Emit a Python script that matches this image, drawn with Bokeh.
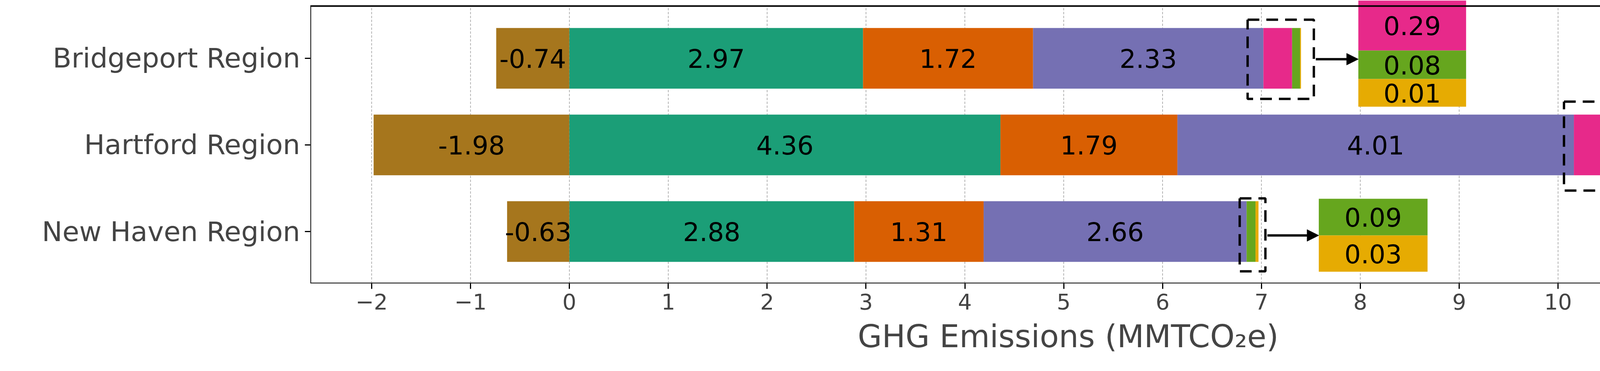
import numpy as np
from bokeh.core.properties import value
from bokeh.embed import file_html
from bokeh.models import Arrow, NormalHead, FixedTicker
from bokeh.plotting import figure
from bokeh.resources import INLINE

regions = ["Bridgeport Region", "Hartford Region", "New Haven Region"]
region_y = [2, 1, 0]
series_colors = ["#a6761d", "#1b9e77", "#d95f02", "#7570b3", "#e7298a", "#66a61e", "#e6ab02"]
sink = [-0.74, -1.98, -0.63]
s1 = [2.97, 4.36, 2.88]
s2 = [1.72, 1.79, 1.31]
s3 = [2.33, 4.01, 2.66]
s4 = [0.29, 0.29, 0.00]
s5 = [0.08, 0.24, 0.09]
s6 = [0.01, 0.17, 0.03]
x_ticks = list(range(-2, 11))

FONT = value("DejaVu Sans")
X0, X1 = -2.62, 12.71
Y0, Y1 = -0.599, 2.671
BOX_R, BOX_T = 11.5, 2.604

p = figure(frame_width=3880, frame_height=726, x_range=(X0, X1), y_range=(Y0, Y1),
           output_backend="svg", toolbar_location=None,
           min_border_left=794, min_border_right=0, min_border_top=0, min_border_bottom=209)
p.outline_line_color = None
p.xgrid.visible = False
p.ygrid.visible = False

# dashed grid lines
p.segment(x0=x_ticks, y0=[Y0] * len(x_ticks), x1=x_ticks, y1=[BOX_T] * len(x_ticks),
          line_color="#9a9a9a", line_width=1.5, line_dash="6 4")

# sink bar (negative)
p.hbar(y=region_y, left=sink, right=[0] * 3, height=0.7, color=series_colors[0], line_color=None)
p.text(x=[v / 2 for v in sink], y=region_y, text=["%.2f" % v for v in sink],
       text_font=FONT, text_font_size="66px", text_align="center", text_baseline="middle")

stack = [s1, s2, s3, s4, s5, s6]
left = np.zeros(3)
for i, s in enumerate(stack):
    arr = np.array(s)
    p.hbar(y=region_y, left=left, right=left + arr, height=0.7,
           color=series_colors[i + 1], line_color=None)
    if i < 3:
        p.text(x=list(left + arr / 2), y=region_y, text=["%.2f" % v for v in s],
               text_font=FONT, text_font_size="66px", text_align="center", text_baseline="middle")
    left = left + arr

# zoom insets: (x0, x1, [y bounds], series shown, region index)
insets = [
    (7.98, 9.07, [2.667, 2.09, 1.761, 1.441], [3, 4, 5], 0),
    (11.49, 12.74, [1.545, 1.113, 0.811, 0.477], [3, 4, 5], 1),
    (7.58, 8.68, [0.378, -0.045, -0.464], [4, 5], 2),
]
for x0, x1, ys, idx, r in insets:
    for k, si in enumerate(idx):
        p.quad(left=x0, right=x1, top=ys[k], bottom=ys[k + 1],
               color=series_colors[si + 1], line_color=None)
        p.text(x=[(x0 + x1) / 2], y=[(ys[k] + ys[k + 1]) / 2], text=["%.2f" % stack[si][r]],
               text_font=FONT, text_font_size="66px", text_align="center", text_baseline="middle")

# dashed boxes and arrows
boxes = [(6.86, 7.53, 2.446, 1.532, 1.99, 7.98),
         (10.06, 11.0, 1.5, 0.473, 0.98, 11.49),
         (6.78, 7.04, 0.383, -0.459, -0.045, 7.58)]
for bx0, bx1, by0, by1, ay, ax1 in boxes:
    p.line([bx0, bx1, bx1, bx0, bx0], [by0, by0, by1, by1, by0],
           line_color="black", line_width=6, line_dash="30 18")
    p.add_layout(Arrow(end=NormalHead(size=30, fill_color="black", line_color="black"),
                       x_start=bx1 + 0.02, y_start=ay, x_end=ax1, y_end=ay,
                       line_width=6, line_color="black"))

# frame
p.line([X0, BOX_R, BOX_R, X0, X0], [Y0, Y0, BOX_T, BOX_T, Y0], line_color="black", line_width=4)

p.xaxis.ticker = FixedTicker(ticks=x_ticks)
p.xaxis.major_label_overrides = {t: ("\u2212%d" % -t if t < 0 else str(t)) for t in x_ticks}
p.xaxis.axis_line_color = None
p.xaxis.major_tick_out = 14
p.xaxis.major_tick_in = 0
p.xaxis.major_tick_line_width = 3
p.xaxis.minor_tick_line_color = None
p.xaxis.major_label_text_font = "DejaVu Sans"
p.xaxis.major_label_text_font_size = "56px"
p.xaxis.major_label_standoff = 12
p.xaxis.axis_label = "GHG Emissions (MMTCO\u2082e)"
p.xaxis.axis_label_text_font = "DejaVu Sans"
p.xaxis.axis_label_text_font_style = "normal"
p.xaxis.axis_label_text_font_size = "80px"
p.xaxis.axis_label_standoff = 20

p.yaxis.ticker = FixedTicker(ticks=region_y)
p.yaxis.major_label_overrides = {y: n for y, n in zip(region_y, regions)}
p.yaxis.axis_line_color = None
p.yaxis.major_tick_out = 14
p.yaxis.major_tick_in = 0
p.yaxis.major_tick_line_width = 3
p.yaxis.minor_tick_line_color = None
p.yaxis.major_label_text_font = "DejaVu Sans"
p.yaxis.major_label_text_font_size = "70px"
p.yaxis.major_label_standoff = 12

open("out.html", "w").write(file_html(p, INLINE))
